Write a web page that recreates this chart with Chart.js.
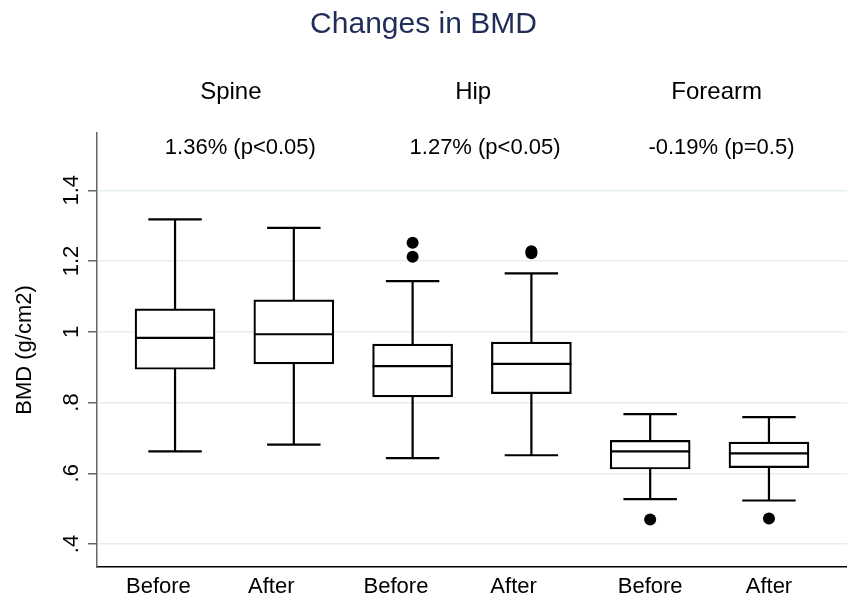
<!DOCTYPE html>
<html>
<head>
<meta charset="utf-8">
<script src="https://cdn.jsdelivr.net/npm/chart.js@4"></script>
<style>
  html, body { margin: 0; padding: 0; background: #fff; }
  #wrap { width: 847px; height: 598px; }
</style>
</head>
<body>
<div id="wrap"><canvas id="myChart" width="847" height="598"></canvas></div>
<script>
// box positions on the x axis and their labels
const boxX = [1, 2, 3, 4, 5, 6];
const periods = ['Before', 'After', 'Before', 'After', 'Before', 'After'];
const periodTickX = [0.86, 1.81, 2.86, 3.85, 5.0, 6.0];

// box plot values (g/cm2)
const lowerWhisker = [0.662, 0.681, 0.643, 0.651, 0.527, 0.523];
const q1 = [0.894, 0.909, 0.816, 0.825, 0.612, 0.616];
const medians = [0.983, 0.993, 0.903, 0.909, 0.662, 0.656];
const q3 = [1.065, 1.090, 0.965, 0.971, 0.693, 0.688];
const upperWhisker = [1.318, 1.294, 1.143, 1.165, 0.767, 0.759];

const outlierX = [3, 3, 4, 4, 5, 6];
const outlierY = [1.252, 1.212, 1.228, 1.222, 0.469, 0.472];

// group headers and change annotations
const groups = ['Spine', 'Hip', 'Forearm'];
const groupX = [1.47, 3.51, 5.56];
const changes = ['1.36% (p<0.05)', '1.27% (p<0.05)', '-0.19% (p=0.5)'];
const changeX = [1.55, 3.61, 5.6];
const changeY = 1.52;

const yTicks = [0.4, 0.6, 0.8, 1, 1.2, 1.4];

const FONT = "'Liberation Sans', Arial, sans-serif";
Chart.defaults.font.family = FONT;
Chart.defaults.color = '#000';

// whiskers + caps go under the boxes, medians on top
const boxPlot = {
    id: 'boxPlot',
    beforeDatasetsDraw(chart) {
        const ctx = chart.ctx;
        const x = chart.scales.x;
        const y = chart.scales.y;
        ctx.save();
        ctx.strokeStyle = '#000';
        ctx.lineWidth = 2.2;
        for (let i = 0; i < boxX.length; i++) {
            const px = x.getPixelForValue(boxX[i]);
            const capHalf = (x.getPixelForValue(boxX[i] + 0.225) - px);
            const lo = y.getPixelForValue(lowerWhisker[i]);
            const hi = y.getPixelForValue(upperWhisker[i]);
            ctx.beginPath();
            ctx.moveTo(px, lo);
            ctx.lineTo(px, hi);
            ctx.moveTo(px - capHalf, lo);
            ctx.lineTo(px + capHalf, lo);
            ctx.moveTo(px - capHalf, hi);
            ctx.lineTo(px + capHalf, hi);
            ctx.stroke();
        }
        ctx.restore();
    },
    afterDatasetsDraw(chart) {
        const ctx = chart.ctx;
        const x = chart.scales.x;
        const y = chart.scales.y;
        const meta = chart.getDatasetMeta(0);
        ctx.save();
        ctx.strokeStyle = '#000';
        ctx.lineWidth = 2.2;
        for (let i = 0; i < boxX.length; i++) {
            const bar = meta.data[i];
            const half = bar.width / 2;
            const px = x.getPixelForValue(boxX[i]);
            const py = y.getPixelForValue(medians[i]);
            ctx.beginPath();
            ctx.moveTo(px - half, py);
            ctx.lineTo(px + half, py);
            ctx.stroke();
        }

        // group headers and annotations
        ctx.fillStyle = '#000';
        ctx.textAlign = 'center';
        ctx.textBaseline = 'middle';
        ctx.font = '24px ' + FONT;
        groups.forEach((g, i) => {
            ctx.fillText(g, x.getPixelForValue(groupX[i]), chart.chartArea.top - 41);
        });
        ctx.font = '22px ' + FONT;
        changes.forEach((c, i) => {
            ctx.fillText(c, x.getPixelForValue(changeX[i]), y.getPixelForValue(changeY));
        });
        ctx.restore();
    }
};

const ctx = document.getElementById('myChart');
new Chart(ctx, {
    type: 'bar',
    data: {
        datasets: [
            {
                type: 'bar',
                data: boxX.map((v, i) => ({ x: v, y: [q1[i], q3[i]] })),
                backgroundColor: '#fff',
                borderColor: '#000',
                borderWidth: 2.2,
                borderSkipped: false,
                barThickness: 80,
                order: 2
            },
            {
                type: 'scatter',
                data: outlierX.map((v, i) => ({ x: v, y: outlierY[i] })),
                backgroundColor: '#000',
                borderColor: '#000',
                pointRadius: 6,
                pointBorderWidth: 0,
                order: 1
            }
        ]
    },
    options: {
        responsive: false,
        animation: false,
        events: [],
        layout: { padding: 0, autoPadding: false },
        plugins: {
            legend: { display: false },
            tooltip: { enabled: false },
            title: {
                display: true,
                text: 'Changes in BMD',
                color: '#1f2d58',
                font: { size: 30, weight: 'normal' },
                padding: { top: 7, bottom: 90 }
            }
        },
        scales: {
            x: {
                type: 'linear',
                offset: false,
                min: 0.343,
                max: 6.657,
                afterBuildTicks: (scale) => {
                    scale.ticks = periodTickX.map(v => ({ value: v }));
                },
                afterFit: (scale) => {
                    scale.height = 31;
                    scale.paddingLeft = 0;
                    scale.paddingRight = 0;
                },
                ticks: {
                    callback: (value, index) => periods[index],
                    font: { size: 22 },
                    padding: 7,
                    maxRotation: 0,
                    autoSkip: false
                },
                grid: { display: false, drawTicks: false },
                border: { display: true, color: '#000', width: 1.5 }
            },
            y: {
                min: 0.335,
                max: 1.562,
                afterBuildTicks: (scale) => {
                    scale.ticks = yTicks.map(v => ({ value: v }));
                },
                afterFit: (scale) => {
                    scale.width = 97;
                    scale.paddingTop = 0;
                    scale.paddingBottom = 0;
                },
                ticks: {
                    callback: (value) => (Math.round(value * 10) / 10).toString().replace(/^0\./, '.'),
                    font: { size: 22 },
                    minRotation: 90,
                    maxRotation: 90,
                    crossAlign: 'center',
                    padding: 1
                },
                grid: {
                    color: '#e4edf0',
                    lineWidth: 1.5,
                    tickColor: '#666',
                    tickLength: 9
                },
                border: { display: true, color: '#666', width: 1.5 },
                title: {
                    display: true,
                    text: 'BMD (g/cm2)',
                    font: { size: 22 },
                    padding: { top: 12, bottom: 0 }
                }
            }
        }
    },
    plugins: [boxPlot]
});
</script>
</body>
</html>
